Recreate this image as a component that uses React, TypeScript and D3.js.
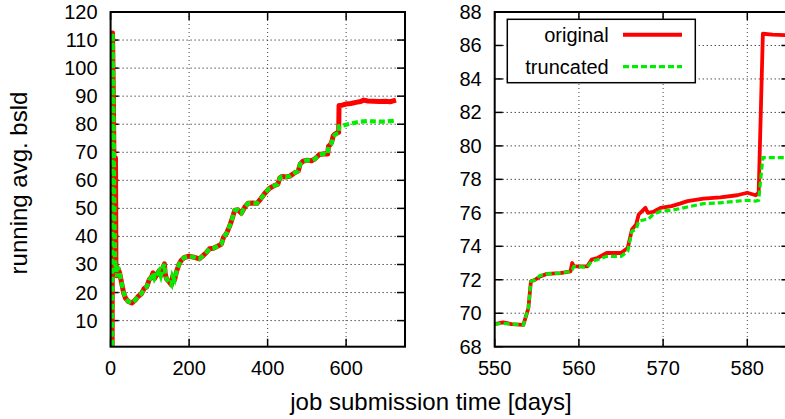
import React from "react"
import * as d3 from "d3"

// left panel: whole history
const leftDays = [4, 5, 7, 9, 11, 12, 12.5, 13.5, 16, 19, 23, 28, 33, 38, 45, 54, 62, 70, 78, 86, 92, 98, 104, 108, 112, 118, 124, 128, 133, 137, 139, 142, 148, 155, 158, 163, 168, 174, 180, 188, 200, 212, 226, 236, 244, 252, 262, 272, 282, 288, 295, 303, 309, 316, 324, 333, 342, 350, 362, 373, 383, 393, 405, 418, 426, 431, 437, 447, 457, 470, 478, 483, 490, 500, 512, 520, 532, 546, 553, 555, 559, 563, 567, 571, 576, 581, 582, 590, 600, 612, 625, 637, 645, 655, 670, 685, 700, 712, 727]
const leftOriginal = [1, 112.5, 90, 60, 35, 30, 68, 30, 26, 28.5, 27, 23.5, 20, 18, 16.8, 16.3, 17.2, 18.6, 19.5, 21.5, 22, 24.5, 25.5, 27, 25, 26.5, 27.8, 26, 28.8, 30.2, 27, 25, 24, 22.7, 25.8, 24.5, 27.5, 30, 31.5, 32.5, 33, 32.6, 32, 33.2, 34.3, 35.6, 35.8, 36.5, 37.2, 39.8, 41, 43.6, 46, 49.3, 49.5, 48.3, 50.5, 51.8, 51.9, 51.8, 53.5, 55.4, 57.2, 58.2, 58.6, 60.8, 61.4, 61.2, 61.5, 62.8, 63.3, 65.8, 66.8, 67.2, 67, 67.6, 69.2, 69.5, 69.4, 72.1, 72.6, 73.5, 75.8, 76.4, 76.9, 77.1, 86.7, 86.8, 87.2, 87.4, 87.8, 88.1, 88.6, 88.3, 88.2, 88.1, 88.2, 88, 88.6]
const leftTruncated = [1, 112.5, 90, 60, 35, 30, 30, 30.5, 25.5, 29, 27, 23.5, 20, 18, 16.8, 16.3, 17.2, 18.6, 19.5, 21.5, 22, 24.5, 25.5, 27, 25, 26.5, 27.8, 26, 28.8, 30.2, 27, 25, 24, 22.7, 25.8, 24.5, 27.5, 30, 31.5, 32.5, 33, 32.6, 32, 33.2, 34.3, 35.6, 35.8, 36.5, 37.2, 39.8, 41, 43.6, 46, 49.3, 49.5, 48.3, 50.5, 51.8, 51.9, 51.8, 53.5, 55.4, 57.2, 58.2, 58.6, 60.8, 61.4, 61.2, 61.5, 62.8, 63.3, 65.8, 66.8, 67.2, 67, 67.6, 69.2, 69.5, 69.4, 72.1, 72.5, 73.3, 75.5, 76.1, 76.6, 76.7, 79.3, 79.4, 79.8, 80.2, 80.6, 80.9, 81, 81.1, 81, 80.9, 80.9, 81.1, 81.3]

// right panel: zoom on days 550-585
const rightDays = [550, 551, 552, 553.4, 553.7, 554, 554.3, 554.8, 555.4, 556.2, 557.8, 559, 559.2, 559.4, 561, 561.5, 562.2, 563.3, 565, 565.8, 566.3, 566.8, 567.1, 567.9, 568.2, 568.8, 569.7, 571, 572, 572.9, 574.8, 576.8, 578.8, 580, 581, 581.35, 581.85, 583, 585]
const rightOriginal = [69.35, 69.45, 69.35, 69.3, 69.8, 70.3, 71.9, 72, 72.2, 72.35, 72.4, 72.5, 73.0, 72.8, 72.8, 73.2, 73.3, 73.6, 73.6, 73.9, 75, 75.3, 75.9, 76.3, 76, 76.05, 76.3, 76.4, 76.55, 76.7, 76.85, 76.92, 77.05, 77.2, 77.05, 77.2, 86.7, 86.65, 86.6]
const rightTruncated = [69.35, 69.4, 69.35, 69.3, 69.8, 70.3, 71.9, 72, 72.25, 72.35, 72.4, 72.5, 72.6, 72.8, 72.75, 73.1, 73.2, 73.4, 73.4, 73.7, 74.9, 75, 75.5, 75.6, 75.6, 75.9, 76.1, 76.15, 76.25, 76.35, 76.55, 76.6, 76.7, 76.75, 76.7, 76.75, 79.3, 79.3, 79.3]

const leftXTicks = [0, 200, 400, 600]
const leftYTicks = [10, 20, 30, 40, 50, 60, 70, 80, 90, 100, 110, 120]
const rightXTicks = [550, 560, 570, 580]
const rightYTicks = [68, 70, 72, 74, 76, 78, 80, 82, 84, 86, 88]

const FONT = "'Liberation Sans', Arial, Helvetica, sans-serif"
const RED = "#ff0000"
const GREEN = "#00ee00"

interface PanelProps {
  id: string
  days: number[]
  original: number[]
  truncated: number[]
  xDomain: [number, number]
  yDomain: [number, number]
  left: number
  right: number
  xTicks: number[]
  yTicks: number[]
  redWidth: number
  greenWidth: number
}

const top = 12
const bottom = 346.7
const tickLen = 8

const Panel = ({ id, days, original, truncated, xDomain, yDomain, left, right, xTicks, yTicks, redWidth, greenWidth }: PanelProps) => {
  const x = d3.scaleLinear().domain(xDomain).range([left, right])
  const y = d3.scaleLinear().domain(yDomain).range([bottom, top])
  const line = d3
    .line<number>()
    .x((_, i) => x(days[i]))
    .y((d) => y(d))

  return (
    <g>
      <defs>
        <clipPath id={id}>
          <rect x={left} y={top} width={right - left} height={bottom - top} />
        </clipPath>
      </defs>
      {/* grid */}
      {yTicks
        .filter((t) => y(t) > top + 1 && y(t) < bottom - 1)
        .map((t) => (
          <line key={"gy" + t} x1={left} x2={right} y1={y(t)} y2={y(t)} stroke="#000" strokeWidth={1} strokeDasharray="1,3" />
        ))}
      {xTicks
        .filter((t) => x(t) > left + 1 && x(t) < right - 1)
        .map((t) => (
          <line key={"gx" + t} x1={x(t)} x2={x(t)} y1={top} y2={bottom} stroke="#444" strokeWidth={1} strokeDasharray="1,3" />
        ))}
      {/* tick marks, mirrored */}
      {yTicks.map((t) => (
        <g key={"ty" + t}>
          <line x1={left} x2={left + tickLen} y1={y(t)} y2={y(t)} stroke="#000" strokeWidth={1.5} />
          <line x1={right} x2={right - tickLen} y1={y(t)} y2={y(t)} stroke="#000" strokeWidth={1.5} />
        </g>
      ))}
      {xTicks.map((t) => (
        <g key={"tx" + t}>
          <line x1={x(t)} x2={x(t)} y1={bottom} y2={bottom - tickLen} stroke="#000" strokeWidth={1.5} />
          <line x1={x(t)} x2={x(t)} y1={top} y2={top + tickLen} stroke="#000" strokeWidth={1.5} />
        </g>
      ))}
      {/* series */}
      <g clipPath={`url(#${id})`}>
        <path d={line(original) ?? ""} fill="none" stroke={RED} strokeWidth={redWidth} strokeLinejoin="round" />
        <path d={line(truncated) ?? ""} fill="none" stroke={GREEN} strokeWidth={greenWidth} strokeDasharray="6,3" />
      </g>
      {/* border */}
      <rect x={left} y={top} width={right - left} height={bottom - top} fill="none" stroke="#000" strokeWidth={2} />
      {/* tick labels */}
      {yTicks.map((t) => (
        <text key={"ly" + t} x={left - 13} y={y(t) + 7} textAnchor="end" fontSize={20} fontFamily={FONT}>
          {t}
        </text>
      ))}
      {xTicks.map((t) => (
        <text key={"lx" + t} x={x(t)} y={375} textAnchor="middle" fontSize={20} fontFamily={FONT}>
          {t}
        </text>
      ))}
    </g>
  )
}

export default function App() {
  return (
    <svg width={785} height={419} style={{ position: "absolute", left: 0, top: 0, background: "#fff" }}>
      <Panel
        id="clipL"
        days={leftDays}
        original={leftOriginal}
        truncated={leftTruncated}
        xDomain={[0, 750]}
        yDomain={[0.7, 120]}
        left={110.6}
        right={405}
        xTicks={leftXTicks}
        yTicks={leftYTicks}
        redWidth={5}
        greenWidth={4.2}
      />
      <Panel
        id="clipR"
        days={rightDays}
        original={rightOriginal}
        truncated={rightTruncated}
        xDomain={[550, 585]}
        yDomain={[68, 88]}
        left={494.7}
        right={789.4}
        xTicks={rightXTicks}
        yTicks={rightYTicks}
        redWidth={3.8}
        greenWidth={3.2}
      />
      {/* legend */}
      <g fontFamily={FONT} fontSize={20}>
        <rect x={507.3} y={19.3} width={188} height={63.4} fill="#fff" stroke="#000" strokeWidth={1.5} />
        <text x={608.7} y={42} textAnchor="end">original</text>
        <line x1={623} x2={682} y1={34.7} y2={34.7} stroke={RED} strokeWidth={4} />
        <text x={608.7} y={74} textAnchor="end">truncated</text>
        <line x1={623} x2={682} y1={66.7} y2={66.7} stroke={GREEN} strokeWidth={3.2} strokeDasharray="6,3" />
      </g>
      <text x={431} y={410} textAnchor="middle" fontSize={24} fontFamily={FONT}>
        job submission time [days]
      </text>
      <text transform="translate(27,183) rotate(-90)" textAnchor="middle" fontSize={24} fontFamily={FONT}>
        running avg. bsld
      </text>
    </svg>
  )
}
